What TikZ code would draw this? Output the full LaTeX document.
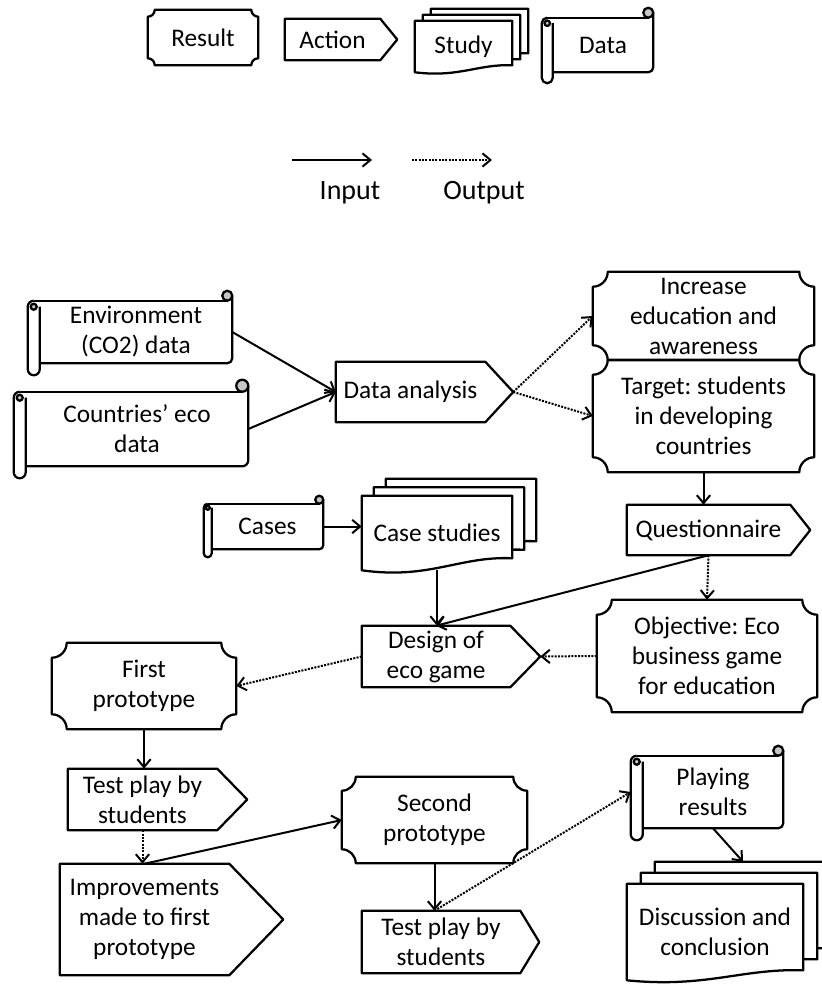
\documentclass[tikz,border=0pt]{standalone}
\usepackage{fontspec}
\setmainfont{Carlito}
\usetikzlibrary{calc,arrows.meta,backgrounds}
\frenchspacing

\colorlet{curl}{gray!45}
\newcommand{\boxfont}{\fontsize{19}{22.5}\selectfont}

% Result: plaque with concave corners (node, radius)
\newcommand{\resultshape}[2]{%
  \draw[shp] ($(#1.north west)+(#2,0)$) -- ($(#1.north east)+(-#2,0)$)
    arc[start angle=180, end angle=90, radius=#2] -- ($(#1.south east)+(0,-#2)$)
    arc[start angle=270, end angle=180, radius=#2] -- ($(#1.south west)+(#2,0)$)
    arc[start angle=0, end angle=-90, radius=#2] -- ($(#1.north west)+(0,#2)$)
    arc[start angle=90, end angle=0, radius=#2] -- cycle;}

% Action: box with a point on the right (node, tip length)
\newcommand{\actionshape}[2]{%
  \coordinate (#1-tip) at ($(#1.east)+(#2,0)$);
  \draw[shp] (#1.north west) -- (#1.north east) -- (#1-tip) -- (#1.south east)
    -- (#1.south west) -- cycle;}

% Data: scroll (node, roll width, curl radius)
\newcommand{\datashape}[3]{%
  \coordinate (#1-roll) at ($(#1.west)+(-#2,0)$);
  \draw[shp] ($(#1.north west)+(-#2/2,0)$) -- ($(#1.north east)+(-#3,0)$);
  \draw[shp] ($(#1.north east)+(0,-#3)$) -- ($(#1.south east)+(0,-#3)$)
    arc[start angle=0, end angle=90, radius=#3] -- (#1.south west);
  \draw[shp, fill=curl] ($(#1.north east)+(-#3,-#3)$) circle[radius=#3];
  \draw[shp] ($(#1.north west)+(-#2/2,0)$) arc[start angle=270, end angle=180, radius=#2/2]
    -- ($(#1.south west)+(-#2,#2/2)$) arc[start angle=180, end angle=0, radius=#2/2]
    -- ($(#1.north west)+(0,#2/2)$);
  \draw[shp, fill=curl] ($(#1.north west)+(-#2/2,#2/2)$) circle[radius=#2/4];}

% Study: one page with wavy bottom (node, shift x, shift y, wave)
\newcommand{\studypage}[4]{%
  \draw[shp, fill=white] ($(#1.south west)+(#2,#3)$) -- ($(#1.north west)+(#2,#3)$)
    -- ($(#1.north east)+(#2,#3)$) -- ($(#1.south east)+(#2,#3-#4)$)
    .. controls ($(#1.south west)!0.65!(#1.south east)+(#2,#3-1.2*#4)$)
    and ($(#1.south west)!0.45!(#1.south east)+(#2,#3+0.8*#4)$)
    .. ($(#1.south west)+(#2,#3)$) -- cycle;}
% Study: stack of three pages
\newcommand{\studyshape}[4]{%
  \foreach \k in {2,1,0} {\studypage{#1}{\k*#2}{-\k*#3}{#4}}
  \coordinate (#1-back) at ($(#1.north)+(2*#2,-2*#3)$);}

\begin{document}
\begin{tikzpicture}[x=0.75pt, y=-0.75pt,
  shp/.style={line width=1.7pt, line join=round},
  box/.style 2 args={inner sep=0pt, minimum width=#1*0.75pt, minimum height=#2*0.75pt,
    align=center, font=\boxfont},
  inarrow/.style={line width=1.5pt, -{Straight Barb[length=6pt,width=10pt]}},
  outarrow/.style={inarrow, dash pattern=on 1.5pt off 1pt}]
  \useasboundingbox (0,0) rectangle (821,987);

  % Legend
  \node[box={110}{55}] (res) at (203,37.5) {Result};
  \node[box={95}{41}] (act) at (332.5,39.5) {Action};
  \node[box={97}{51}] (stu) at (463.5,46.5) {Study};
  \node[box={100}{54}] (dat) at (603,45) {Data};

  \coordinate (in1) at (292,160);
  \coordinate (in2) at (372,160);
  \coordinate (out1) at (412,160);
  \coordinate (out2) at (492,160);
  \draw[inarrow] (in1) -- (in2);
  \draw[outarrow] (out1) -- (out2);
  \node[font=\fontsize{21}{25}\selectfont] (inlab) at (350,193) {Input};
  \node[font=\fontsize{21}{25}\selectfont] (outlab) at (484,193) {Output};

  % Data and analysis
  \node[box={192}{62}] (env) at (136,332) {Environment\\(CO2) data};
  \node[box={222}{74}] (cty) at (137,429) {Countries’ eco\\data};
  \node[box={149}{60}] (ana) at (410.5,392) {Data analysis};
  \node[box={221}{88}] (inc) at (703.5,316) {Increase\\education and\\awareness};
  \node[box={221}{112}] (tgt) at (703.5,416) {Target: students\\in developing\\countries};

  % Cases and design
  \node[box={111}{45}] (cas) at (267.5,526.5) {Cases};
  \node[box={150}{74}] (cst) at (437,533) {Case studies};
  \node[box={163}{50}] (qst) at (708.5,530) {Questionnaire};
  \node[box={148}{61}] (dsg) at (436,656.5) {Design of\\eco game};
  \node[box={220}{112}] (obj) at (707,656) {Objective: Eco\\business game\\for education};

  % Prototypes and tests
  \node[box={184}{86}] (fst) at (144,686) {First\\prototype};
  \node[box={149}{61}] (ts1) at (142.5,799.5) {Test play by\\students};
  \node[box={169}{111}] (imp) at (144.5,919.5) {Improvements\\made to first\\prototype};
  \node[box={185}{86}] (snd) at (434.5,820) {Second\\prototype};
  \node[box={158}{62}] (ts2) at (441,942) {Test play by\\students};
  \node[box={140}{72}] (ply) at (713,792) {Playing\\results};
  \node[box={176}{96}] (dis) at (715,932) {Discussion and\\conclusion};

  % Outlines
  \begin{scope}[on background layer]
    \resultshape{res}{7}
    \actionshape{act}{17}
    \studyshape{stu}{8}{6}{7}
    \datashape{dat}{11}{5}
    \datashape{env}{12}{5}
    \datashape{cty}{12}{6}
    \actionshape{ana}{28}
    \resultshape{inc}{15}
    \resultshape{tgt}{15}
    \datashape{cas}{8}{4}
    \studyshape{cst}{12}{8.5}{12}
    \actionshape{qst}{20}
    \actionshape{dsg}{30}
    \resultshape{obj}{15}
    \resultshape{fst}{15}
    \actionshape{ts1}{30}
    \actionshape{imp}{54}
    \resultshape{snd}{14}
    \actionshape{ts2}{19}
    \datashape{ply}{12}{5}
    \studyshape{dis}{14}{11}{10}
  \end{scope}

  % Connectors
  \draw[inarrow] (env.east) -- (ana.west);
  \draw[inarrow] (cty.east) -- (ana.west);
  \draw[outarrow] (ana-tip) -- (inc.west);
  \draw[outarrow] (ana-tip) -- (tgt.west);
  \draw[inarrow] (tgt.south) -- (tgt.south |- qst.north);
  \draw[outarrow] (qst.south) -- (obj.north);
  \draw[inarrow] (cas.east) -- (cas.east -| cst.west);
  \draw[inarrow] (cst.south) -- (cst.south |- dsg.north);
  \draw[inarrow] (qst.south) -- (dsg.north);
  \draw[outarrow] (obj.west) -- (dsg-tip);
  \draw[outarrow] (dsg.west) -- (fst.east);
  \draw[inarrow] (fst.south) -- (fst.south |- ts1.north);
  \draw[outarrow] (ts1.south) -- (ts1.south |- imp.north);
  \draw[inarrow] (imp.north) -- (snd.west);
  \draw[inarrow] (snd.south) -- (snd.south |- ts2.north);
  \draw[outarrow] (snd.south |- ts2.north) -- (ply-roll);
  \draw[inarrow] (ply.south) -- (dis-back);
\end{tikzpicture}
\end{document}
